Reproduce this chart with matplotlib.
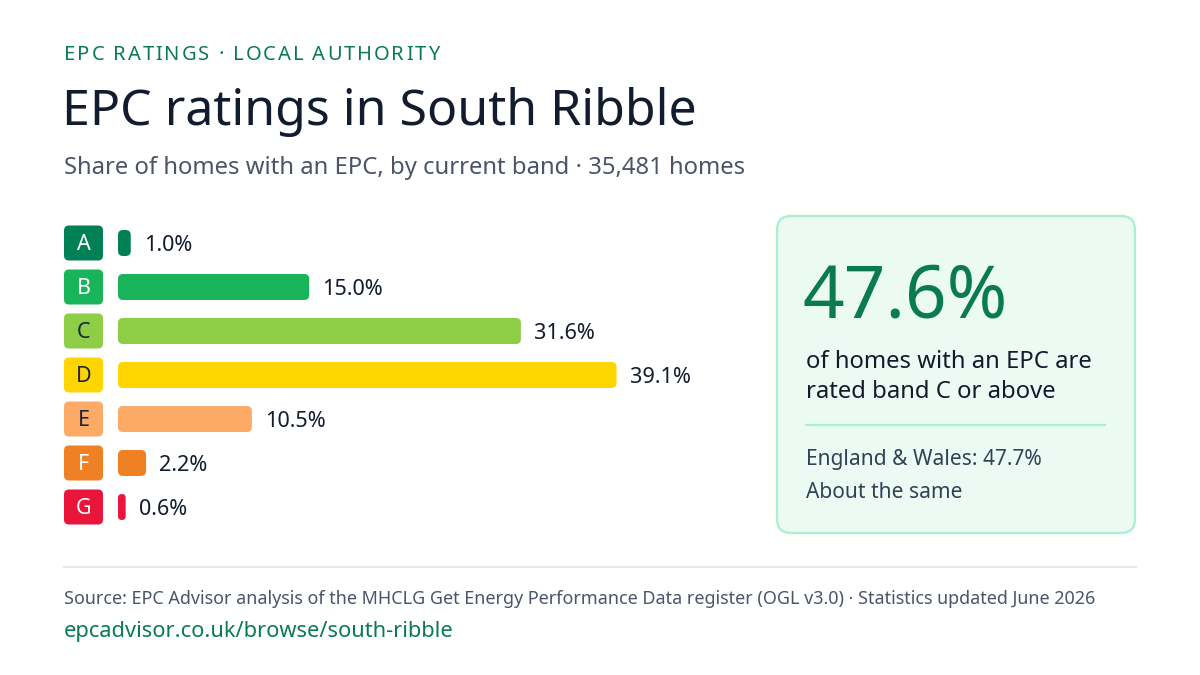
import matplotlib
matplotlib.use("Agg")
import matplotlib.pyplot as plt
from matplotlib.patches import FancyBboxPatch
from matplotlib.lines import Line2D

plt.rcParams['font.family'] = ['Noto Sans', 'DejaVu Sans']

# data
bands = ['A', 'B', 'C', 'D', 'E', 'F', 'G']
shares = [1.0, 15.0, 31.6, 39.1, 10.5, 2.2, 0.6]
band_colors = ['#008054', '#19b459', '#8dce46', '#ffd500', '#fcaa65', '#ef8023', '#e9153b']
badge_text = ['white', 'white', '#1a2535', '#1a2535', '#1a2535', 'white', 'white']

kicker = "EPC RATINGS \u00b7 LOCAL AUTHORITY"
title = "EPC ratings in South Ribble"
subtitle = "Share of homes with an EPC, by current band \u00b7 35,481 homes"
headline = "47.6%"
headline_text = "of homes with an EPC are\nrated band C or above"
compare_text = "England & Wales: 47.7%"
compare_note = "About the same"
source = ("Source: EPC Advisor analysis of the MHCLG Get Energy Performance Data register "
          "(OGL v3.0) \u00b7 Statistics updated June 2026")
url = "epcadvisor.co.uk/browse/south-ribble"

GREEN = '#0a7a52'
DARK = '#111c2e'
GREY = '#4a5568'

W, H = 1200, 675
fig = plt.figure(figsize=(12, 6.75), dpi=100)
fig.patch.set_facecolor('white')

# overlay axes in pixel coordinates
ov = fig.add_axes([0, 0, 1, 1])
ov.set_xlim(0, W)
ov.set_ylim(H, 0)
ov.axis('off')

# kicker with letter spacing
renderer = fig.canvas.get_renderer()
x = 64
for ch in kicker:
    t = ov.text(x, 55, ch, fontsize=14.5, color=GREEN, va='center', ha='left')
    bb = t.get_window_extent(renderer=renderer)
    x += bb.width + 1.9

ov.text(62, 112, title, fontsize=36, color=DARK, va='center', ha='left')
ov.text(64, 168, subtitle, fontsize=17.2, color=GREY, va='center', ha='left')

# bar axes: x in percent
ppx = 12.75           # pixels per percent
row_px = 44
left_px, top_px = 118, 221
ax = fig.add_axes([left_px / W, 1 - (top_px + row_px * 7) / H,
                   ppx * 50 / W, row_px * 7 / H])
ax.set_xlim(0, 50)
ax.set_ylim(6.5, -0.5)
ax.axis('off')

bars = ax.barh(range(len(bands)), shares, height=26 / row_px, color=band_colors)
asp = ppx / row_px
for b, c in zip(bars, band_colors):
    bx, by, bw, bh = b.get_x(), b.get_y(), b.get_width(), b.get_height()
    b.set_visible(False)
    r = min(5 / ppx, bw / 2)
    ax.add_patch(FancyBboxPatch((bx, by), bw, bh,
                                boxstyle=f"round,pad=0,rounding_size={r}",
                                mutation_aspect=asp, fc=c, ec='none'))

for i, (band, v) in enumerate(zip(bands, shares)):
    ax.annotate(f"{v:.1f}%", (v, i), xytext=(9.5, -1.5), textcoords='offset points',
                va='center', ha='left', fontsize=15.6, color=DARK)
    # badge
    bx = (64 - left_px) / ppx
    bw = 39 / ppx
    bh = 35 / row_px
    ax.add_patch(FancyBboxPatch((bx, i - bh / 2), bw, bh,
                                boxstyle=f"round,pad=0,rounding_size={5 / ppx}",
                                mutation_aspect=asp, fc=band_colors[i], ec='none',
                                clip_on=False))
    ax.text(bx + bw / 2, i + 0.03, band, ha='center', va='center', fontsize=15.5,
            color=badge_text[i], clip_on=False)

# summary panel
ov.add_patch(FancyBboxPatch((777, 216), 358, 317,
                            boxstyle="round,pad=0,rounding_size=14",
                            fc='#ebfbf3', ec='#a9f0d0', lw=1.6))
ov.text(803, 298, headline, fontsize=52.5, color=GREEN, va='center', ha='left')
ov.text(806, 377, headline_text, fontsize=17.2, color=DARK, va='center', ha='left',
        linespacing=1.32)
ov.add_line(Line2D([806, 1105], [425, 425], color='#a9f0d0', lw=1.6))
ov.text(806, 460, compare_text, fontsize=15.1, color='#334155', va='center', ha='left')
ov.text(806, 493, compare_note, fontsize=15.1, color='#334155', va='center', ha='left')

# footer
ov.add_line(Line2D([64, 1136], [567, 567], color='#e2e8f0', lw=1.5))
ov.text(64, 599, source, fontsize=12.95, color=GREY, va='center', ha='left')
ov.text(64, 632, url, fontsize=15.7, color=GREEN, va='center', ha='left')

fig.savefig('out.png', dpi=100, facecolor='white')
